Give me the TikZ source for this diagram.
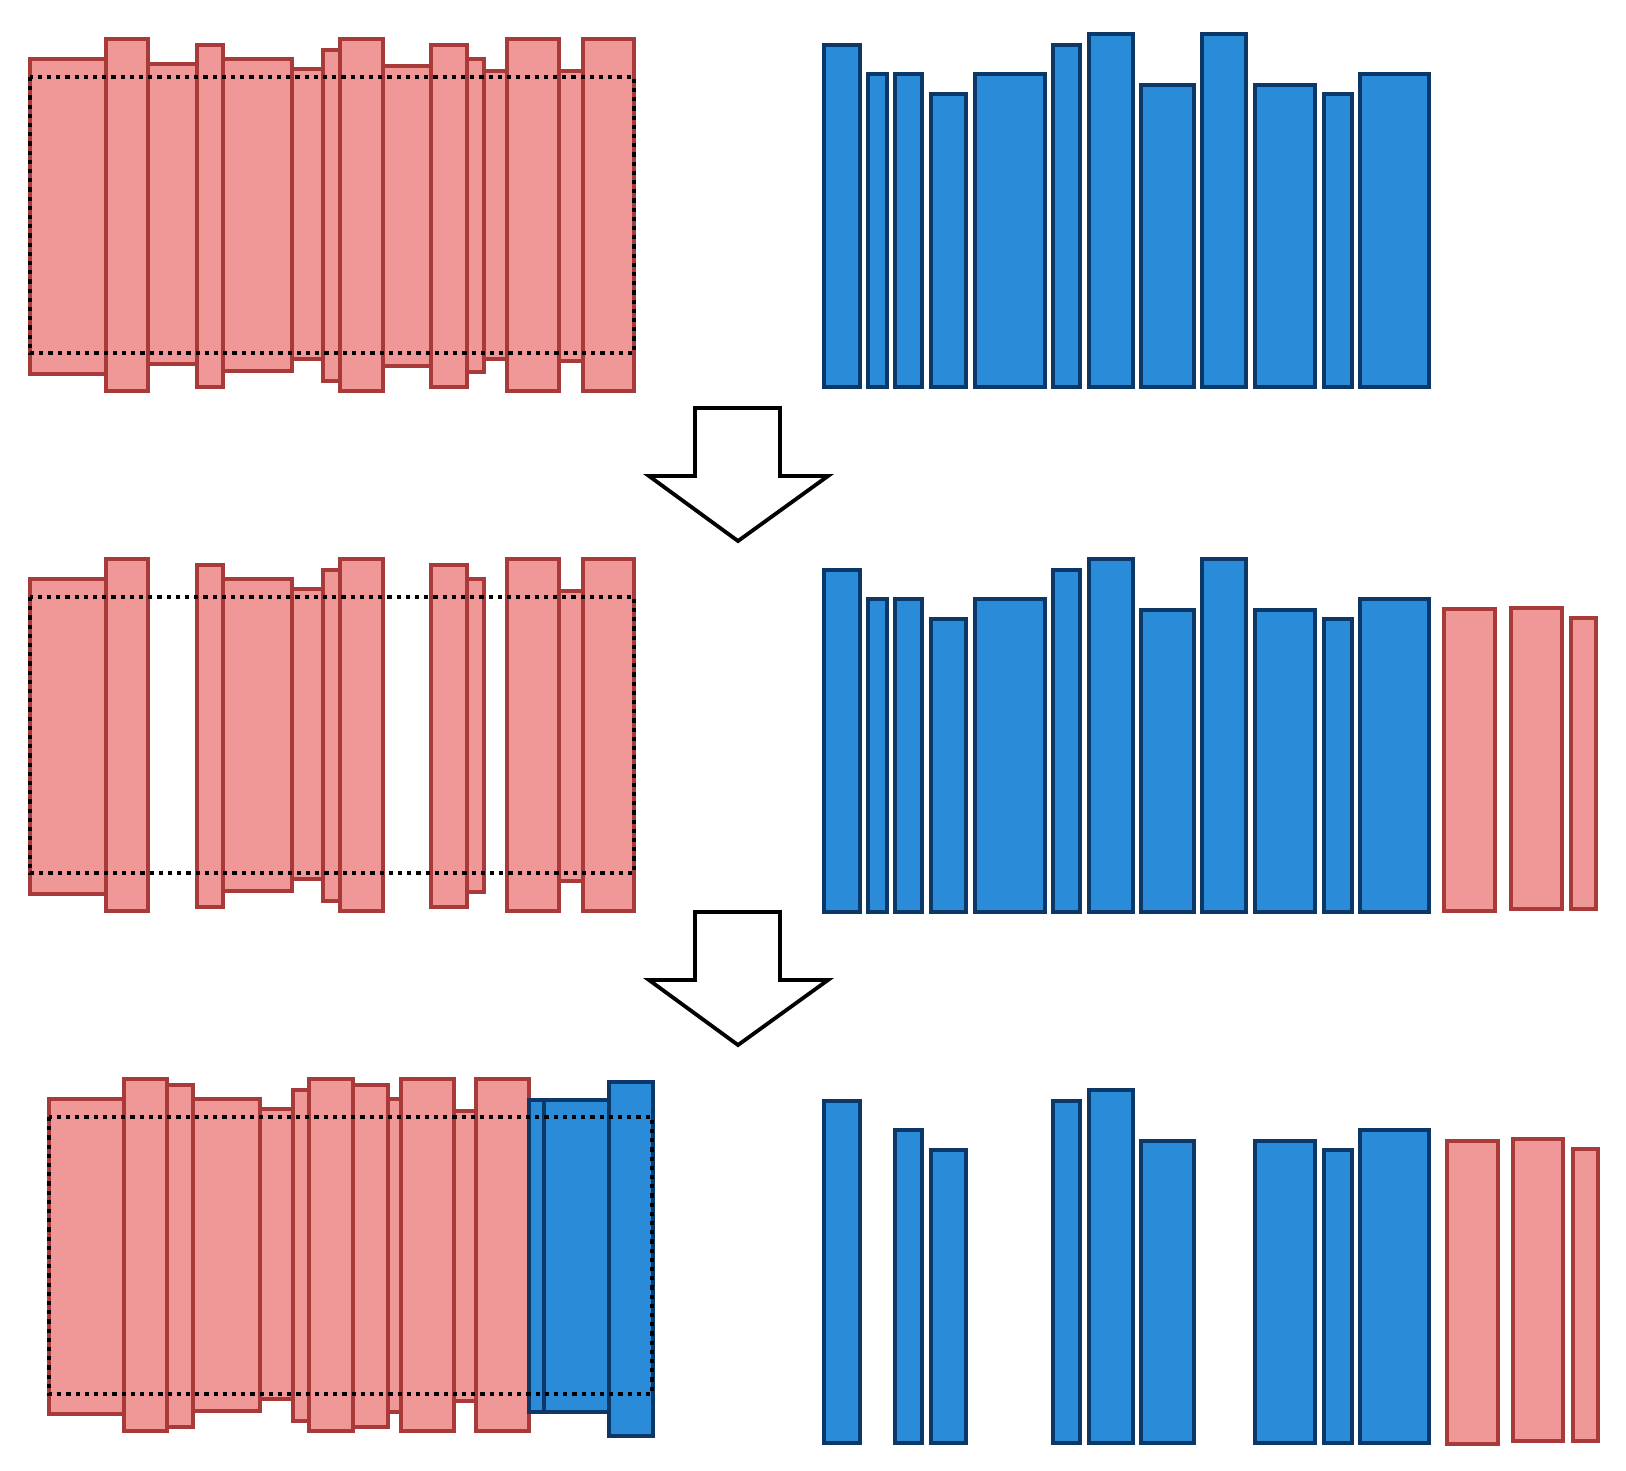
\documentclass[tikz,border=0pt]{standalone}
\usepackage{tikz}
\usepackage{xcolor}
\definecolor{redfill}{HTML}{F09898}
\definecolor{reddraw}{HTML}{A83A3A}
\definecolor{bluefill}{HTML}{2A8BD8}
\definecolor{bluedraw}{HTML}{0B3866}
\tikzset{
  redbar/.style={draw=reddraw,fill=redfill,line width=0.35mm},
  bluebar/.style={draw=bluedraw,fill=bluefill,line width=0.4mm},
  window/.style={draw=black,line width=0.42mm,dash pattern=on 0.42mm off 0.5mm},
  bigarrow/.style={draw=black,fill=white,line width=0.38mm,line join=miter},
}

\begin{document}
\begin{tikzpicture}[x=0.1mm,y=-0.1mm]
  \useasboundingbox (0,0) rectangle (1626,1470);

  % row 1: full red window, blue bars
  \foreach \xa/\xb/\ya/\yb in {30/106/59/374, 106/148/39/391, 148/197/64/364, 197/223/45/387,
      223/292/59/371, 292/323/69/359, 323/340/50/381, 340/383/39/391, 383/432/66/366,
      431/467/45/387, 467/484/59/372, 484/507/71/359, 507/559/39/391, 559/583/71/361, 583/634/39/391}
    \draw[redbar] (\xa,\ya) rectangle (\xb,\yb);
  \draw[window] (30,77) rectangle (634,353);
  \foreach \xa/\xb/\ya in {824/860/45, 868/887/74, 895/922/74, 931/966/94, 975/1045/74, 1053/1080/45,
      1089/1133/34, 1141/1194/85, 1202/1246/34, 1255/1315/85, 1324/1352/94, 1360/1429/74}
    \draw[bluebar] (\xa,\ya) rectangle (\xb,387);

  % row 2: three red bars moved to the right
  \foreach \xa/\xb/\ya/\yb in {30/106/59/374, 106/148/39/391, 197/223/45/387,
      223/292/59/371, 292/323/69/359, 323/340/50/381, 340/383/39/391,
      431/467/45/387, 467/484/59/372, 507/559/39/391, 559/583/71/361, 583/634/39/391}
    \draw[redbar] (\xa,\ya+520) rectangle (\xb,\yb+520);
  \draw[window] (30,597) rectangle (634,873);
  \foreach \xa/\xb/\ya in {824/860/45, 868/887/74, 895/922/74, 931/966/94, 975/1045/74, 1053/1080/45,
      1089/1133/34, 1141/1194/85, 1202/1246/34, 1255/1315/85, 1324/1352/94, 1360/1429/74}
    \draw[bluebar] (\xa,\ya+525) rectangle (\xb,912);
  \foreach \xa/\xb/\ya/\yb in {1444/1495/609/911, 1511/1562/608/909, 1571/1596/618/909}
    \draw[redbar] (\xa,\ya) rectangle (\xb,\yb);

  % row 3: three blue bars moved to the left
  \foreach \xa/\xb/\ya/\yb in {49/124/1099/1414, 124/167/1079/1431, 167/193/1085/1427,
      193/260/1099/1411, 260/293/1109/1399, 293/309/1090/1421, 309/353/1079/1431,
      353/388/1085/1427, 388/401/1099/1412, 401/454/1079/1431, 454/476/1111/1401, 476/529/1079/1431}
    \draw[redbar] (\xa,\ya) rectangle (\xb,\yb);
  \foreach \xa/\xb/\ya/\yb in {529/544/1100/1412, 544/609/1100/1412, 609/653/1082/1436}
    \draw[bluebar] (\xa,\ya) rectangle (\xb,\yb);
  \draw[window] (49,1117) rectangle (652,1394);
  \foreach \xa/\xb/\ya in {824/860/45, 895/922/74, 931/966/94, 1053/1080/45,
      1089/1133/34, 1141/1194/85, 1255/1315/85, 1324/1352/94, 1360/1429/74}
    \draw[bluebar] (\xa,\ya+1056) rectangle (\xb,1443);
  \foreach \xa/\xb/\ya/\yb in {1447/1498/1141/1444, 1513/1563/1139/1441, 1573/1598/1149/1441}
    \draw[redbar] (\xa,\ya) rectangle (\xb,\yb);

  % step arrows
  \foreach \dy in {0,504}
    \draw[bigarrow] (695,408+\dy) -- (780,408+\dy) -- (780,476+\dy) -- (828,476+\dy)
      -- (738,541+\dy) -- (649,476+\dy) -- (695,476+\dy) -- cycle;
\end{tikzpicture}
\end{document}
